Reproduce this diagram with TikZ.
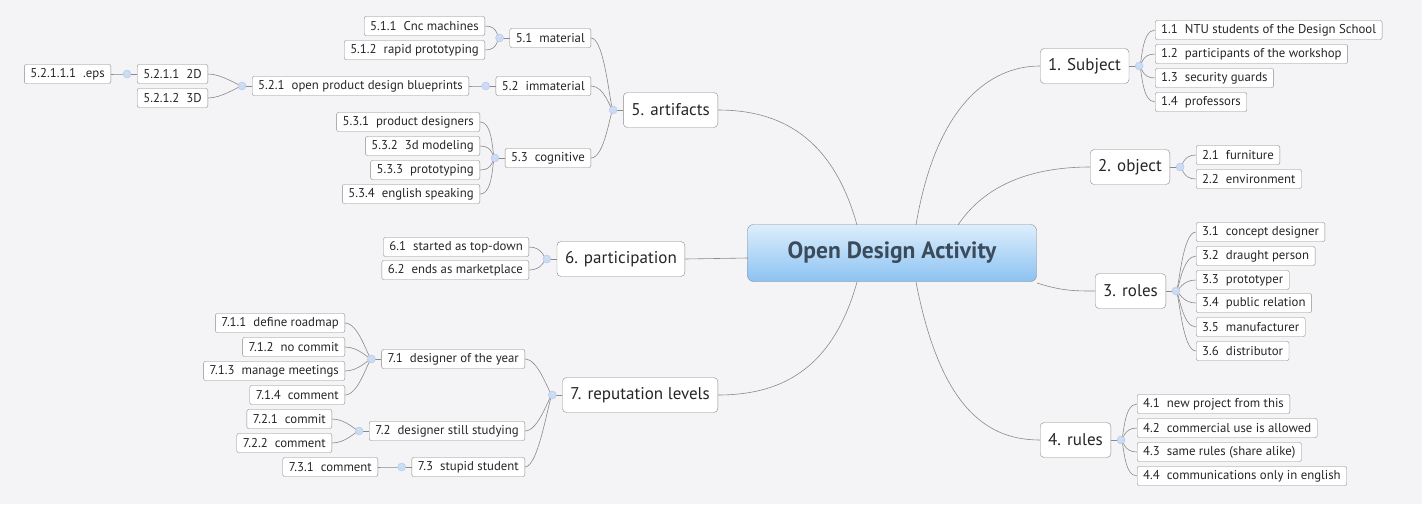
\documentclass[tikz,border=0pt]{standalone}
\usepackage{fontspec}
\setmainfont{PT Sans}
\definecolor{bgcol}{HTML}{F4F4F6}
\definecolor{edgecol}{HTML}{8A8A8A}
\definecolor{knob}{HTML}{C9DCF0}
\definecolor{rootlow}{HTML}{8CC2F2}
\definecolor{roottop}{HTML}{DDEEFC}
\definecolor{roottext}{HTML}{3C4B5C}
\newcommand\gap{\hspace{0.55em}}

\begin{document}
\begin{tikzpicture}[x=1pt,y=-1pt,
  leaf/.style={draw=edgecol,fill=white,rounded corners=2pt,font=\fontsize{12.8}{13}\selectfont,
    inner xsep=6pt,inner ysep=0pt,minimum height=19pt,text=black!85},
  topic/.style={draw=edgecol,fill=white,rounded corners=4pt,font=\fontsize{17}{18}\selectfont,
    inner xsep=8pt,inner ysep=0pt,minimum height=35pt,text=black!85},
  root node/.style={draw=edgecol,rounded corners=6pt,top color=roottop,bottom color=rootlow,
    font=\fontsize{23.5}{25}\selectfont\bfseries,text=roottext,minimum width=289pt,minimum height=57pt},
  link/.style={draw=edgecol,line width=0.6pt},
  knob node/.style={circle,draw=knob!70!blue!60,fill=knob,inner sep=0pt,minimum size=8pt,
    label={[font=\tiny,inner sep=0pt,text=white]center:-}}]

  \fill[bgcol] (0,0) rectangle (1422,504);

  \node[root node] (root) at (892,253) {Open Design Activity};

  % right side topics
  \node[topic,anchor=west] (t1) at (1040,66) {1. Subject};
  \node[topic,anchor=west] (t2) at (1090,167) {2. object};
  \node[topic,anchor=west] (t3) at (1095,291) {3. roles};
  \node[topic,anchor=west] (t4) at (1040,440) {4. rules};
  % left side topics
  \node[topic,anchor=east] (t5) at (718,110) {5. artifacts};
  \node[topic,anchor=east] (t6) at (685,259) {6. participation};
  \node[topic,anchor=east] (t7) at (718,395) {7. reputation levels};

  % 1
  \node[leaf,anchor=west] (t11) at (1155,30) {1.1\gap NTU students of the Design School};
  \node[leaf,anchor=west] (t12) at (1155,54) {1.2\gap participants of the workshop};
  \node[leaf,anchor=west] (t13) at (1155,78) {1.3\gap security guards};
  \node[leaf,anchor=west] (t14) at (1155,102) {1.4\gap professors};
  % 2
  \node[leaf,anchor=west] (t21) at (1196,155) {2.1\gap furniture};
  \node[leaf,anchor=west] (t22) at (1196,179) {2.2\gap environment};
  % 3
  \node[leaf,anchor=west] (t31) at (1196,232) {3.1\gap concept designer};
  \node[leaf,anchor=west] (t32) at (1196,256) {3.2\gap draught person};
  \node[leaf,anchor=west] (t33) at (1196,280) {3.3\gap prototyper};
  \node[leaf,anchor=west] (t34) at (1196,303) {3.4\gap public relation};
  \node[leaf,anchor=west] (t35) at (1196,327) {3.5\gap manufacturer};
  \node[leaf,anchor=west] (t36) at (1196,351) {3.6\gap distributor};
  % 4
  \node[leaf,anchor=west] (t41) at (1137,404) {4.1\gap new project from this};
  \node[leaf,anchor=west] (t42) at (1137,428) {4.2\gap commercial use is allowed};
  \node[leaf,anchor=west] (t43) at (1137,452) {4.3\gap same rules (share alike)};
  \node[leaf,anchor=west] (t44) at (1137,476) {4.4\gap communications only in english};
  % 5
  \node[leaf,anchor=east] (t51) at (591,38) {5.1\gap material};
  \node[leaf,anchor=east] (t52) at (591,86) {5.2\gap immaterial};
  \node[leaf,anchor=east] (t53) at (591,158) {5.3\gap cognitive};
  \node[leaf,anchor=east] (t511) at (485,26) {5.1.1\gap Cnc machines};
  \node[leaf,anchor=east] (t512) at (485,50) {5.1.2\gap rapid prototyping};
  \node[leaf,anchor=east] (t521) at (469,86) {5.2.1\gap open product design blueprints};
  \node[leaf,anchor=east] (t5211) at (208,74) {5.2.1.1\gap 2D};
  \node[leaf,anchor=east] (t5212) at (208,98) {5.2.1.2\gap 3D};
  \node[leaf,anchor=east] (t52111) at (111,74) {5.2.1.1.1\gap .eps};
  \node[leaf,anchor=east] (t531) at (480,122) {5.3.1\gap product designers};
  \node[leaf,anchor=east] (t532) at (480,146) {5.3.2\gap 3d modeling};
  \node[leaf,anchor=east] (t533) at (480,170) {5.3.3\gap prototyping};
  \node[leaf,anchor=east] (t534) at (480,194) {5.3.4\gap english speaking};
  % 6
  \node[leaf,anchor=east] (t61) at (529,247) {6.1\gap started as top-down};
  \node[leaf,anchor=east] (t62) at (529,270) {6.2\gap ends as marketplace};
  % 7
  \node[leaf,anchor=east] (t71) at (525,359) {7.1\gap designer of the year};
  \node[leaf,anchor=east] (t72) at (525,431) {7.2\gap designer still studying};
  \node[leaf,anchor=east] (t73) at (525,467) {7.3\gap stupid student};
  \node[leaf,anchor=east] (t711) at (345,323) {7.1.1\gap define roadmap};
  \node[leaf,anchor=east] (t712) at (345,347) {7.1.2\gap no commit};
  \node[leaf,anchor=east] (t713) at (345,371) {7.1.3\gap manage meetings};
  \node[leaf,anchor=east] (t714) at (345,395) {7.1.4\gap comment};
  \node[leaf,anchor=east] (t721) at (332,419) {7.2.1\gap commit};
  \node[leaf,anchor=east] (t722) at (332,443) {7.2.2\gap comment};
  \node[leaf,anchor=east] (t731) at (378,467) {7.3.1\gap comment};

  % main branches
  \coordinate (r1) at (916,225);
  \coordinate (r2) at (958,225);
  \coordinate (r3) at (1037,283);
  \coordinate (r4) at (916,282);
  \coordinate (r5) at (857,225);
  \coordinate (r6) at (748,258);
  \coordinate (r7) at (857,282);
  \draw[link] (r1) .. controls +(20,-120) and +(-50,0) .. (t1.west);
  \draw[link] (r2) .. controls +(30,-45) and +(-50,0) .. (t2.west);
  \draw[link] (r3) .. controls +(25,8) and +(-20,0) .. (t3.west);
  \draw[link] (r4) .. controls +(25,130) and +(-50,0) .. (t4.west);
  \draw[link] (r5) .. controls +(-25,-90) and +(60,0) .. (t5.east);
  \draw[link] (r6) -- (t6.east);
  \draw[link] (r7) .. controls +(-25,90) and +(60,0) .. (t7.east);

  % child links, right side
  \foreach \p/\kids in {t1/{t11,t12,t13,t14},t2/{t21,t22},t3/{t31,t32,t33,t34,t35,t36},
                         t4/{t41,t42,t43,t44}}{
    \coordinate (k\p) at ([xshift=10pt]\p.east);
    \draw[link] (\p.east) -- (k\p);
    \foreach \c in \kids
      \draw[link] (k\p) .. controls +(3,0) and +(-14,0) .. (\c.west);
    \node[knob node] at (k\p) {};
  }
  % child links, left side
  \foreach \p/\kids in {t5/{t51,t52,t53},t51/{t511,t512},t52/{t521},t521/{t5211,t5212},
                         t5211/{t52111},t53/{t531,t532,t533,t534},t6/{t61,t62},
                         t7/{t71,t72,t73},t71/{t711,t712,t713,t714},t72/{t721,t722},t73/{t731}}{
    \coordinate (k\p) at ([xshift=-10pt]\p.west);
    \draw[link] (\p.west) -- (k\p);
    \foreach \c in \kids
      \draw[link] (k\p) .. controls +(-3,0) and +(14,0) .. (\c.east);
    \node[knob node] at (k\p) {};
  }
\end{tikzpicture}
\end{document}
